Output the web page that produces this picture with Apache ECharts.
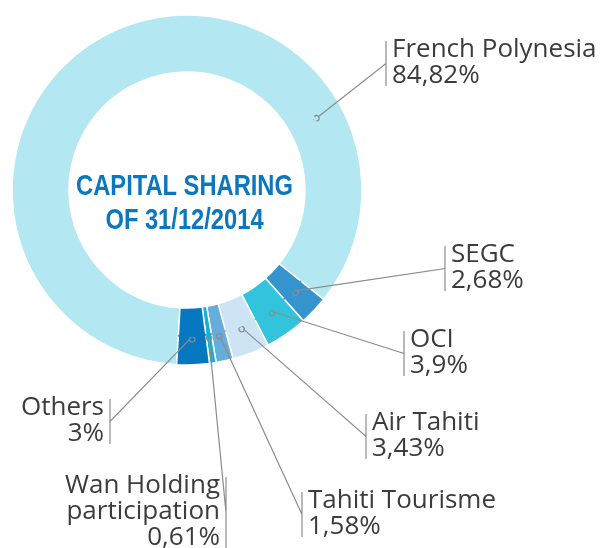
<!DOCTYPE html>
<html>
<head>
<meta charset="utf-8">
<script src="https://cdn.jsdelivr.net/npm/echarts@6/dist/echarts.min.js"></script>
<style>
	html, body { margin: 0; padding: 0; background: #fff; }
	#main { width: 609px; height: 548px; }
</style>
</head>
<body>
<div id="main"></div>
<script>
// shareholders, clockwise from the bottom-left of the ring
var names = ['French Polynesia', 'SEGC', 'OCI', 'Air Tahiti', 'Tahiti Tourisme', 'Wan Holding\nparticipation', 'Others'];
var shares = [84.82, 2.68, 3.9, 3.43, 1.58, 0.61, 3];
var colors = ['#b3e8f2', '#3594cd', '#32c4dc', '#cce4f3', '#67addb', '#10b4d0', '#0578bf'];
var heading = 'CAPITAL SHARING\nOF 31/12/2014';

// label anchor [x, top, align] for each slice
var labelSpots = [
	[392, 37, 'left'],
	[451, 242, 'left'],
	[410, 327, 'left'],
	[372, 410, 'left'],
	[308, 488, 'left'],
	[220, 473, 'right'],
	[104, 395, 'right']
];

(function() {
	var myChart = echarts.init(document.getElementById('main'));

	var cx = 187, cy = 190;
	var lineColor = '#8c8c8c';

	var data = names.map(function(n, i) {
		return {
			name: n,
			value: shares[i],
			itemStyle: { color: colors[i] }
		};
	});

	function fmt(v) {
		return String(v).replace('.', ',') + '%';
	}

	// marker of the big slice sits on the right, near its label
	var bigA = 29 * Math.PI / 180;
	var bigMarker = [cx + 148 * Math.cos(bigA), cy - 148 * Math.sin(bigA)];

	option = {
		animation: false,
		graphic: [{
			type: 'text',
			x: 184.5,
			y: 170,
			scaleX: 0.79,
			style: {
				text: heading,
				align: 'center',
				verticalAlign: 'top',
				font: 'bold 30px "Liberation Sans", Arial, sans-serif',
				lineHeight: 34,
				fill: '#0a77be'
			}
		}],
		series: [{
				// the ring itself, with the small circle markers
				type: 'pie',
				z: 2,
				center: [cx, cy],
				radius: [118, 175],
				startAngle: 266.6,
				clockwise: true,
				avoidLabelOverlap: false,
				itemStyle: {
					borderColor: '#fff',
					borderWidth: 1.5
				},
				emphasis: { disabled: true },
				label: {
					show: true,
					position: 'inside',
					formatter: '{o|}',
					rich: {
						o: {
							width: 5.5,
							height: 5.5,
							borderRadius: 5,
							borderWidth: 1.3,
							borderColor: lineColor
						}
					}
				},
				labelLayout: function(params) {
					if (params.dataIndex === 0) {
						return { x: bigMarker[0], y: bigMarker[1] };
					}
				},
				data: data
			},
			{
				// invisible twin carrying the outer labels and leader lines
				type: 'pie',
				z: 3,
				center: [cx, cy],
				radius: [145, 147],
				startAngle: 266.6,
				clockwise: true,
				silent: true,
				avoidLabelOverlap: false,
				itemStyle: {
					color: 'transparent',
					borderWidth: 0
				},
				label: {
					show: true,
					overflow: 'none',
					formatter: function(p) {
						return p.name + '\n' + fmt(p.value);
					},
					fontFamily: 'Open Sans',
					fontSize: 26,
					lineHeight: 26,
					color: '#3c3c3c'
				},
				labelLine: {
					show: true,
					lineStyle: {
						color: lineColor,
						width: 1.2
					}
				},
				labelLayout: function(params) {
					var s = labelSpots[params.dataIndex];
					var start = params.labelLinePoints ? params.labelLinePoints[0].slice() : [cx, cy];
					if (params.dataIndex === 0) {
						start = bigMarker.slice();
					}
					var h = params.labelRect.height;
					var bx = s[2] === 'left' ? s[0] - 6 : s[0] + 6;
					var top = s[1] + 4;
					var bottom = s[1] + h - 3;
					var mid = (top + bottom) / 2;
					// begin at the rim of the marker circle
					var dx = bx - start[0], dy = mid - start[1];
					var len = Math.sqrt(dx * dx + dy * dy);
					start = [start[0] + dx / len * 3.5, start[1] + dy / len * 3.5];
					return {
						x: s[0],
						y: s[1],
						align: s[2],
						verticalAlign: 'top',
						labelLinePoints: [start, [bx, mid], [bx, top], [bx, bottom]]
					};
				},
				data: data
			}
		]
	};

	myChart.setOption(option);
})();
</script>
</body>
</html>
